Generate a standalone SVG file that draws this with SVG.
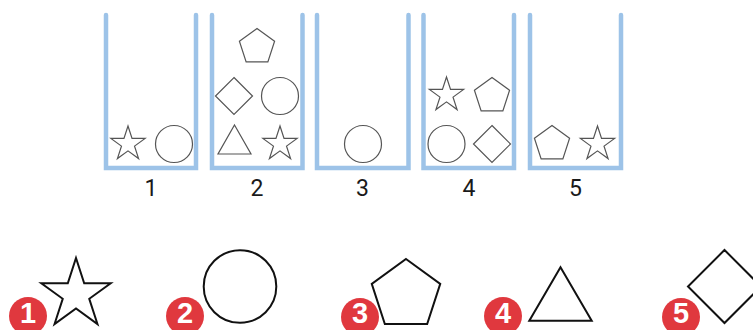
<svg xmlns="http://www.w3.org/2000/svg" width="753" height="330" viewBox="0 0 753 330">
<style>
.cup{fill:none;stroke:#9dc3e8;stroke-width:4.5;stroke-linecap:round;stroke-linejoin:miter}
.s{fill:#fff;stroke:#555;stroke-width:1.2;stroke-linejoin:miter}
.b{fill:#fff;stroke:#111;stroke-width:2;stroke-linejoin:miter}
.lbl{font-family:Roboto,"Liberation Sans",sans-serif;font-size:23px;fill:#1a1a1a;text-anchor:middle}
.badge{fill:#e0383e}
.bn{font-family:"Liberation Sans Narrow","Liberation Sans",sans-serif;font-weight:bold;font-size:29px;fill:#fff;text-anchor:middle}
</style>
<defs>
<path id="star" d="M0,-18 L4.04,-5.57 L17.12,-5.56 L6.54,2.13 L10.58,14.56 L0,6.88 L-10.58,14.56 L-6.54,2.13 L-17.12,-5.56 L-4.04,-5.57 Z"/>
<path id="pent" d="M0,-18.5 L17.59,-5.72 L10.87,14.97 L-10.87,14.97 L-17.59,-5.72 Z"/>
<path id="dia" d="M0,-18.5 L18.5,0 L0,18.5 L-18.5,0 Z"/>
<circle id="circ" r="18.5"/>
</defs>
<g id="container1">
<path class="cup" d="M106,15 V168 H196 V15"/>
<use href="#star" class="s" x="128" y="144"/>
<use href="#circ" class="s" x="174" y="144"/>
<text class="lbl" x="151" y="196">1</text>
</g>
<g id="container2">
<path class="cup" d="M212,15 V168 H302.5 V15"/>
<use href="#pent" class="s" x="257" y="47"/>
<use href="#dia" class="s" x="234" y="96"/>
<use href="#circ" class="s" x="280" y="96"/>
<path class="s" d="M234.5,125 L251,154 L218,154 Z"/>
<use href="#star" class="s" x="280" y="144"/>
<text class="lbl" x="257" y="196">2</text>
</g>
<g id="container3">
<path class="cup" d="M317,15 V168 H408.5 V15"/>
<use href="#circ" class="s" x="363" y="144"/>
<text class="lbl" x="362.5" y="196">3</text>
</g>
<g id="container4">
<path class="cup" d="M423.5,15 V168 H514 V15"/>
<use href="#star" class="s" x="446.5" y="95"/>
<use href="#pent" class="s" x="492" y="96"/>
<use href="#circ" class="s" x="446.5" y="144"/>
<use href="#dia" class="s" x="492" y="144"/>
<text class="lbl" x="469" y="196">4</text>
</g>
<g id="container5">
<path class="cup" d="M530,15 V168 H621 V15"/>
<use href="#pent" class="s" x="552" y="144"/>
<use href="#star" class="s" x="597.5" y="144"/>
<text class="lbl" x="575.5" y="196">5</text>
</g>
<g id="option1">
<path class="b" transform="translate(76,294.5)" d="M0,-36.5 L8.19,-11.28 L34.71,-11.28 L13.26,4.31 L21.45,29.53 L0,13.94 L-21.45,29.53 L-13.26,4.31 L-34.71,-11.28 L-8.19,-11.28 Z"/>
<circle class="badge" cx="28" cy="316" r="19"/>
<text class="bn" x="28" y="323">1</text>
</g>
<g id="option2">
<circle class="b" cx="240" cy="286.5" r="36.3"/>
<circle class="badge" cx="185" cy="316" r="19"/>
<text class="bn" x="185" y="323">2</text>
</g>
<g id="option3">
<path class="b" transform="translate(406,295)" d="M0,-36 L34.24,-11.12 L21.16,29.12 L-21.16,29.12 L-34.24,-11.12 Z"/>
<circle class="badge" cx="360" cy="317" r="19"/>
<text class="bn" x="360" y="323">3</text>
</g>
<g id="option4">
<path class="b" d="M560.5,267.3 L591.7,320.7 L529.3,320.7 Z"/>
<circle class="badge" cx="503" cy="316" r="19"/>
<text class="bn" x="503" y="323">4</text>
</g>
<g id="option5">
<path class="b" d="M724.5,250 L761,286.5 L724.5,323 L688,286.5 Z"/>
<circle class="badge" cx="681" cy="317" r="19"/>
<text class="bn" x="681" y="323">5</text>
</g>
</svg>
